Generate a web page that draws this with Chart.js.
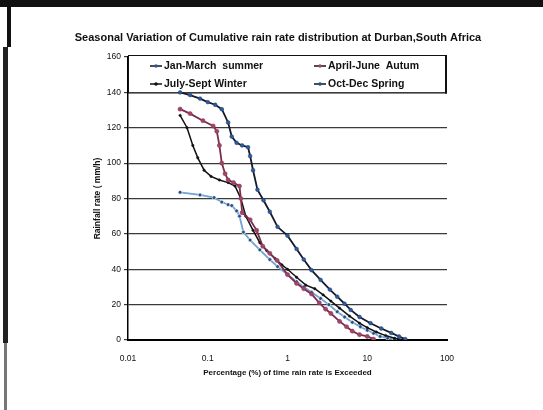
<!DOCTYPE html>
<html>
<head>
<meta charset="utf-8">
<title>Seasonal Variation of Cumulative rain rate distribution</title>
<script src="https://cdn.jsdelivr.net/npm/chart.js@4.4.1/dist/chart.umd.min.js"></script>
<style>
    html, body { margin: 0; padding: 0; background: #fff; }
    #wrap { position: relative; width: 543px; height: 410px; }
    #rain-chart { position: absolute; left: 0; top: 0; }
    .frame { position: absolute; background: #111; }
</style>
</head>
<body>
<div id="wrap">
    <canvas id="rain-chart" width="543" height="410"></canvas>
    <div class="frame" style="left:0;top:0;width:543px;height:7px;"></div>
    <div class="frame" style="left:7px;top:7px;width:4px;height:40px;"></div>
    <div class="frame" style="left:3px;top:47px;width:5px;height:296px;background:#222;"></div>
    <div class="frame" style="left:4px;top:343px;width:3px;height:67px;background:#777;"></div>
</div>
<script>
let seriesNames = ["Jan-March  summer", "April-June  Autum", "July-Sept Winter", "Oct-Dec Spring"];

// percentage of time exceeded (%) and rain rate (mm/h)
let janMarPct = [0.045, 0.06, 0.08, 0.1, 0.124, 0.15, 0.18, 0.2, 0.23, 0.27, 0.32, 0.34, 0.37, 0.42, 0.5, 0.6, 0.75, 1.0, 1.3, 1.6, 2.0, 2.6, 3.4, 4.2, 5.2, 6.2, 8, 11, 15, 20, 25, 30];
let janMarRate = [140, 138.5, 136.5, 134.5, 133, 130.5, 123, 115, 111.5, 110, 109, 104, 96, 85, 79, 72.5, 64, 59, 51.5, 45.5, 39.5, 34, 28.5, 24.5, 20.5, 17, 13, 9.5, 6.5, 4, 2, 0.5];

let aprJunPct = [0.045, 0.06, 0.087, 0.117, 0.13, 0.14, 0.15, 0.165, 0.18, 0.21, 0.25, 0.26, 0.27, 0.34, 0.41, 0.49, 0.6, 0.74, 1.0, 1.3, 1.6, 2.0, 2.5, 3.0, 3.5, 4.5, 5.5, 6.5, 8, 10, 12];
let aprJunRate = [130.5, 128, 124, 121, 118, 110, 100, 94, 90.5, 89, 87, 80, 72, 68, 62, 53, 49, 45, 37, 32, 29, 26, 21, 17.5, 15, 10.5, 7.5, 5, 3, 2, 0.5];

let julSepPct = [0.045, 0.055, 0.065, 0.075, 0.09, 0.11, 0.14, 0.18, 0.22, 0.26, 0.3, 0.37, 0.45, 0.55, 0.7, 0.85, 1.0, 1.3, 1.7, 2.2, 2.8, 3.5, 4.5, 6, 8, 10, 13, 17, 22, 28];
let julSepRate = [127, 120, 110, 103, 96, 92.5, 90.5, 89, 87, 80, 70, 62, 55, 50.5, 46, 42.5, 40, 35.5, 31, 29, 25.5, 22, 18, 13.5, 9.5, 7, 4.5, 2.5, 1, 0.2];

let octDecPct = [0.045, 0.08, 0.12, 0.15, 0.18, 0.2, 0.23, 0.25, 0.28, 0.34, 0.45, 0.6, 0.75, 1.0, 1.3, 1.6, 2.0, 2.6, 3.3, 4.2, 5.2, 6.5, 8.2, 10, 12, 14.5, 18, 22];
let octDecRate = [83.5, 82, 80.5, 78, 76.5, 76, 73, 70, 61, 56.5, 51, 45.5, 41.5, 37, 33, 30, 27, 23.5, 20, 16, 13, 10, 7.5, 5.5, 3.8, 2, 1, 0.3];

let xTickValues = [0.01, 0.1, 1, 10, 100];
let xTickLabels = ["0.01", "0.1", "1", "10", "100"];
let yTickValues = [0, 20, 40, 60, 80, 100, 120, 140, 160];

let narrowFont = "'Liberation Sans Narrow', 'Liberation Sans', Arial, sans-serif";

function toPoints(pct, rate) {
    return pct.map((p, i) => ({ x: p, y: rate[i] }));
}

// legend sits inside the plot, over the 140-160 band
const insideLegend = {
    id: "insideLegend",
    beforeDatasetsDraw(chart) {
        const ctx = chart.ctx;
        const area = chart.chartArea;
        const top = area.top - 2;
        const bottom = chart.scales.y.getPixelForValue(140);
        ctx.save();
        ctx.fillStyle = "#fff";
        ctx.fillRect(area.left, top, area.right - area.left, bottom - top);
        ctx.strokeStyle = "#111";
        ctx.lineWidth = 1;
        ctx.strokeRect(area.left + 0.5, top + 0.5, area.right - area.left - 1, bottom - top);
        ctx.lineWidth = 2;
        ctx.beginPath();
        ctx.moveTo(area.right - 1, top);
        ctx.lineTo(area.right - 1, bottom + 1);
        ctx.stroke();

        const cols = [area.left + 22, area.left + 186];
        const rows = [top + 11, top + 29];
        ctx.font = "bold 10.5px " + narrowFont;
        ctx.textBaseline = "middle";
        chart.data.datasets.forEach((ds, i) => {
            const x = cols[i % 2];
            const y = rows[Math.floor(i / 2)];
            ctx.strokeStyle = "#111";
            ctx.lineWidth = 1.5;
            ctx.beginPath();
            ctx.moveTo(x, y);
            ctx.lineTo(x + 12, y);
            ctx.stroke();
            ctx.fillStyle = ds.pointBackgroundColor;
            ctx.beginPath();
            ctx.arc(x + 6, y, 1.8, 0, Math.PI * 2);
            ctx.fill();
            ctx.fillStyle = "#111";
            ctx.fillText(seriesNames[i], x + 14, y);
        });
        ctx.restore();
    },
    afterLayout(chart) {
        // the title is centred a little right of the plot in the original
        const t = chart.titleBlock;
        if (t) {
            t.left = 70;
            t.right = 486;
            t.width = t.right - t.left;
        }
    },
};

let chartCanvas = document.getElementById("rain-chart");

let rainChart = new Chart(chartCanvas, {
    type: "line",
    data: {
        datasets: [
            {
                label: seriesNames[0],
                data: toPoints(janMarPct, janMarRate),
                borderColor: "#151a2a",
                backgroundColor: "#2f5a9a",
                pointBackgroundColor: "#2f5a9a",
                pointBorderColor: "#1c3f78",
                pointRadius: 1.9,
                pointBorderWidth: 0.5,
                borderWidth: 1.8,
            },
            {
                label: seriesNames[1],
                data: toPoints(aprJunPct, aprJunRate),
                borderColor: "#7a2c4c",
                backgroundColor: "#a04468",
                pointBackgroundColor: "#a04468",
                pointBorderColor: "#8a3658",
                pointRadius: 2.1,
                pointBorderWidth: 0.5,
                borderWidth: 1.8,
            },
            {
                label: seriesNames[2],
                data: toPoints(julSepPct, julSepRate),
                borderColor: "#111111",
                backgroundColor: "#111111",
                pointBackgroundColor: "#111111",
                pointBorderColor: "#111111",
                pointRadius: 1.2,
                pointBorderWidth: 0.5,
                borderWidth: 1.5,
            },
            {
                label: seriesNames[3],
                data: toPoints(octDecPct, octDecRate),
                borderColor: "#6fa3d2",
                backgroundColor: "#24508a",
                pointBackgroundColor: "#24508a",
                pointBorderColor: "#ffffff",
                pointRadius: 1.9,
                pointBorderWidth: 0.6,
                borderWidth: 1.8,
            },
        ],
    },
    options: {
        responsive: false,
        animation: false,
        layout: {
            padding: { top: 0, left: 88, right: 96, bottom: 32 },
        },
        scales: {
            x: {
                type: "logarithmic",
                min: 0.01,
                max: 100,
                afterBuildTicks: (scale) => {
                    scale.ticks = xTickValues.map((v) => ({ value: v }));
                },
                afterFit: (scale) => {
                    scale.height = 38;
                },
                ticks: {
                    autoSkip: false,
                    maxRotation: 0,
                    padding: 6,
                    color: "#111",
                    font: { family: narrowFont, size: 8.5 },
                    callback: (value, index) => xTickLabels[index],
                },
                grid: { display: false },
                border: { display: true, color: "#000", width: 2 },
                title: {
                    display: true,
                    text: "Percentage (%) of time rain rate is Exceeded",
                    color: "#111",
                    font: { family: narrowFont, size: 8, weight: "bold" },
                    padding: { top: 0, bottom: 0 },
                },
            },
            y: {
                min: 0,
                max: 160,
                afterBuildTicks: (scale) => {
                    scale.ticks = yTickValues.map((v) => ({ value: v }));
                },
                afterFit: (scale) => {
                    scale.width = 40;
                },
                ticks: {
                    padding: 3,
                    color: "#111",
                    font: { family: narrowFont, size: 8.5 },
                },
                grid: {
                    color: "#3a3a3a",
                    lineWidth: 1.2,
                    tickLength: 4,
                },
                border: { display: true, color: "#000", width: 1.5 },
                title: {
                    display: true,
                    text: "Rainfall rate ( mm/h)",
                    color: "#111",
                    font: { family: narrowFont, size: 8.5, weight: "bold" },
                    padding: { top: 5, bottom: 0 },
                },
            },
        },
        plugins: {
            title: {
                display: true,
                text: "Seasonal Variation of Cumulative rain rate distribution at Durban,South Africa",
                color: "#111",
                font: { family: narrowFont, size: 11, weight: "bold", lineHeight: 1.2 },
                padding: { top: 31, bottom: 12.8 },
            },
            legend: { display: false },
            tooltip: { enabled: false },
        },
    },
    plugins: [insideLegend],
});
</script>
</body>
</html>
